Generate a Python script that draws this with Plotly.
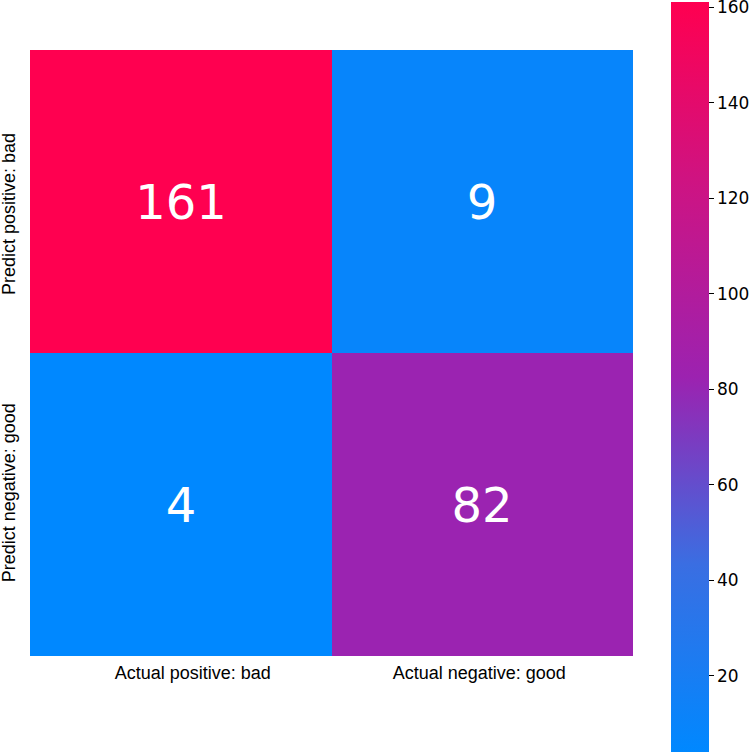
import plotly.graph_objects as go

# confusion matrix values
actual_labels = ["Actual positive: bad", "Actual negative: good"]
predict_labels = ["Predict positive: bad", "Predict negative: good"]
counts = [[161, 9],
          [4, 82]]
cbar_ticks = [20, 40, 60, 80, 100, 120, 140, 160]

# blue -> purple -> pink colour scale
cscale = [
    [0.0, "#0088ff"],
    [0.25, "#3a6ee2"],
    [0.5, "#9c22b0"],
    [0.75, "#cc1484"],
    [1.0, "#ff0050"],
]

cols = list(range(len(actual_labels)))
rows = list(range(len(predict_labels)))

fig = go.Figure(go.Heatmap(
    z=counts,
    x=cols,
    y=rows,
    zmin=4, zmax=161,
    colorscale=cscale,
    xgap=0, ygap=0,
    text=[[str(v) for v in row] for row in counts],
    texttemplate="%{text}",
    textfont=dict(family="DejaVu Sans", size=48, color="white"),
    hoverinfo="skip",
    colorbar=dict(
        thickness=38,
        lenmode="pixels", len=750,
        x=1.063, xanchor="left",
        y=0.46, yanchor="middle",
        xpad=0, ypad=0,
        outlinewidth=0,
        tickmode="array",
        tickvals=cbar_ticks,
        ticks="outside", ticklen=5, tickcolor="black",
        ticklabeloverflow="allow",
        tickfont=dict(family="DejaVu Sans", size=17, color="black"),
    ),
))

fig.update_layout(
    width=751, height=755,
    margin=dict(l=30, r=118, t=50, b=99, autoexpand=False),
    paper_bgcolor="white",
    plot_bgcolor="white",
    font=dict(family="Liberation Sans, Arial", size=18, color="black"),
)
# the labels in the original sit a little off the cell centres
fig.update_xaxes(showgrid=False, zeroline=False, ticks="", side="bottom",
                 range=[-0.5, 1.5], tickmode="array",
                 tickvals=[0.04, 0.99], ticktext=actual_labels,
                 tickfont=dict(size=18), ticklabelstandoff=4)
fig.update_yaxes(showgrid=False, zeroline=False, ticks="",
                 range=[1.5, -0.5], tickmode="array",
                 tickvals=[0.05, 0.97], ticktext=predict_labels,
                 tickangle=-90, tickfont=dict(size=18), ticklabelstandoff=10)

# drop the default page margin so the figure sits at the window corner
fig.write_html("out.html", config={"displayModeBar": False},
               post_script="document.body.style.margin = '0';")
